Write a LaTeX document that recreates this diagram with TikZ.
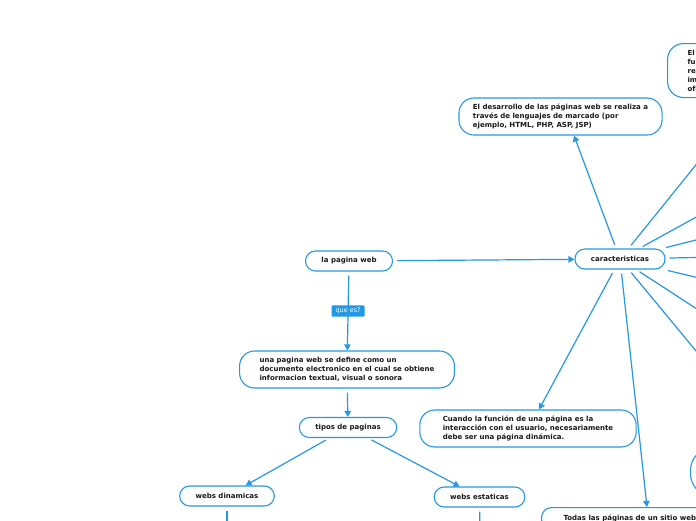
\documentclass[tikz,border=0pt]{standalone}
\usepackage{fontspec}
\setmainfont{DejaVu Sans}
\usetikzlibrary{arrows.meta}
\definecolor{MapBlue}{RGB}{36,152,226}
\definecolor{MapText}{RGB}{25,25,25}
\tikzset{
  topic/.style={draw=MapBlue, line width=1.1pt, fill=white, rounded corners=10pt, minimum height=20pt, inner xsep=16pt, font=\fontsize{7}{9}\selectfont\bfseries, text=MapText},
  idea/.style={topic, rounded corners=15pt, align=left, inner xsep=20pt, minimum height=37pt},
  link/.style={draw=MapBlue, line width=1.2pt, shorten <=4pt, -{Triangle[length=6pt,width=6.5pt]}},
  trail/.style={draw=MapBlue, line width=1.2pt, shorten <=4pt},
  tag/.style={fill=MapBlue, text=white, font=\fontsize{6.5}{8}\selectfont, inner xsep=4pt, inner ysep=2.5pt, rounded corners=1pt}
}

\begin{document}
\begin{tikzpicture}[x=1pt,y=-1pt]
\useasboundingbox (0,0) rectangle (696,520);
\clip (0,0) rectangle (696,520);

\node[topic] (web) at (349,261) {la pagina web};
\node[topic] (car) at (620,259) {caracteristicas};
\node[idea] (def) at (347,369.5) {una pagina web se define como un\\documento electronico en el cual se obtiene\\informacion textual, visual o sonora};
\node[topic] (tipos) at (348,427.5) {tipos de paginas};
\node[topic] (din) at (227,496) {webs dinamicas};
\node[topic] (est) at (479.5,497) {webs estaticas};
\node[idea, inner xsep=14pt] (desa) at (560.5,116.5) {El desarrollo de las páginas web se realiza a\\través de lenguajes de marcado (por\\ejemplo, HTML, PHP, ASP, JSP)};
\node[idea, inner xsep=23pt] (cuando) at (528,428.5) {Cuando la función de una página es la\\interacción con el usuario, necesariamente\\debe ser una página dinámica.};
\node[topic, anchor=north west, inner xsep=22pt, minimum height=22pt] (todas) at (541,507) {Todas las páginas de un sitio web};
\node[idea, anchor=north west, minimum height=54pt, rounded corners=16pt] (func) at (667,43) {El\\fu\\res\\im\\ofr};
\node[topic, anchor=west, minimum height=48pt, minimum width=80pt, rounded corners=22pt] (side) at (690,472) {};

\coordinate (r1) at (720,135);
\coordinate (r2) at (720,204);
\coordinate (r3) at (720,234);
\coordinate (r4) at (720,257);
\coordinate (r5) at (720,283);
\coordinate (r6) at (720,324);
\coordinate (r7) at (720,380);
\coordinate (d1) at (227,540);
\coordinate (e1) at (480,540);

\draw[link] (web) -- (car);
\draw[link] (web) -- node[tag] {que es?} (def);
\draw[link] (def) -- (tipos);
\draw[link] (tipos) -- (din);
\draw[link] (tipos) -- (est);
\draw[link] (car) -- ([xshift=13.5pt]desa.south);
\draw[link] (car) -- ([xshift=11pt]cuando.north);
\draw[link] (car) -- ([xshift=106pt]todas.north west);
\draw[trail] (car) -- (r1);
\draw[trail] (car) -- (r2);
\draw[trail] (car) -- (r3);
\draw[trail] (car) -- (r4);
\draw[trail] (car) -- (r5);
\draw[trail] (car) -- (r6);
\draw[trail] (car) -- (r7);
\draw[trail] (din) -- (d1);
\draw[trail] (est) -- (e1);
\end{tikzpicture}
\end{document}
